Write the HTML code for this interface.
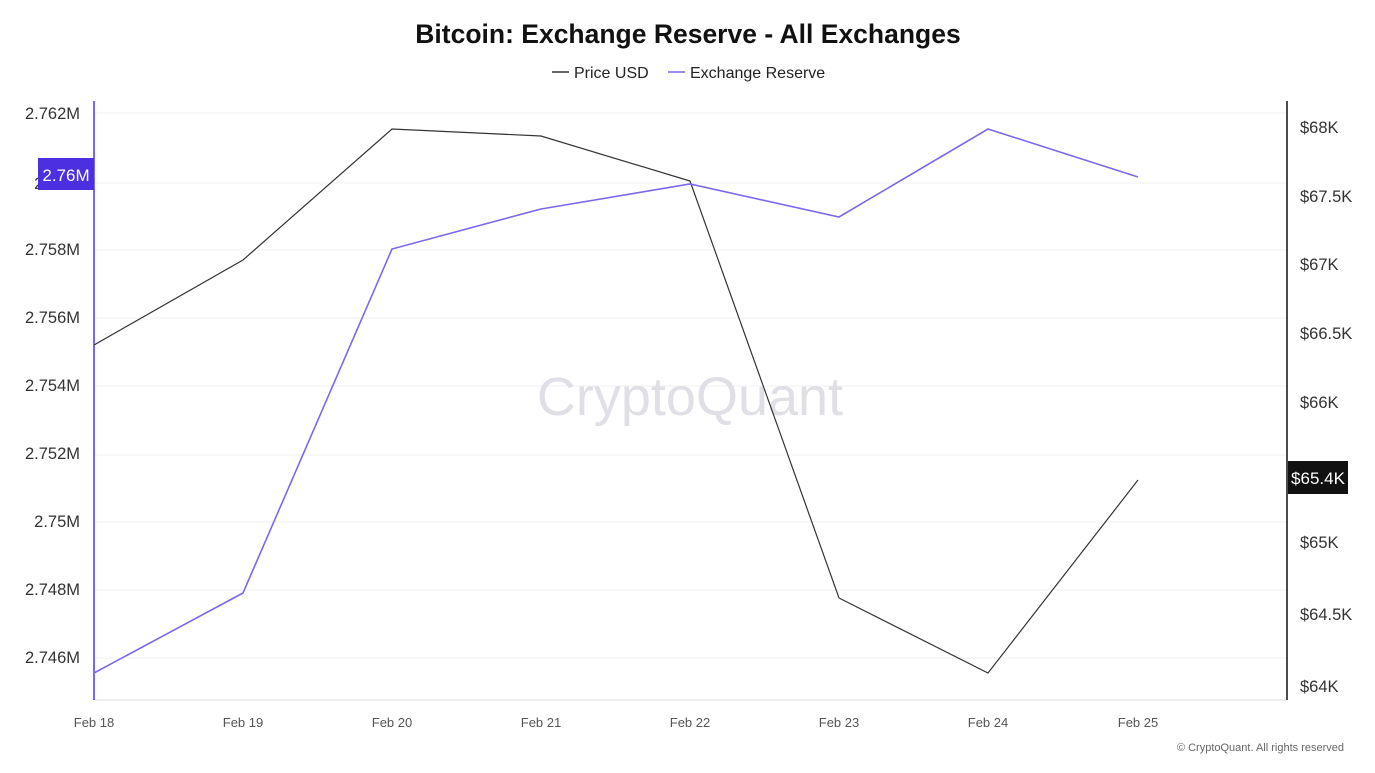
<!DOCTYPE html>
<html><head><meta charset="utf-8"><style>
body{margin:0;background:#fff;font-family:"Liberation Sans",sans-serif;}
</style></head><body>
<svg width="1375" height="768" xmlns="http://www.w3.org/2000/svg" font-family="Liberation Sans, sans-serif">
<rect width="1375" height="768" fill="#fff"/>
<text x="688" y="43" text-anchor="middle" font-size="26.5" font-weight="bold" fill="#111">Bitcoin: Exchange Reserve - All Exchanges</text>
<line x1="552" y1="72" x2="569" y2="72" stroke="#333" stroke-width="1.5"/>
<text x="574" y="78" font-size="16" fill="#222">Price USD</text>
<line x1="668" y1="72" x2="685" y2="72" stroke="#7b68ee" stroke-width="1.5"/>
<text x="690" y="78" font-size="16" fill="#222">Exchange Reserve</text>
<g stroke="#f2f2f2" stroke-width="1">
<line x1="95" y1="113" x2="1287" y2="113"/><line x1="95" y1="183" x2="1287" y2="183"/>
<line x1="95" y1="250" x2="1287" y2="250"/><line x1="95" y1="318" x2="1287" y2="318"/>
<line x1="95" y1="386" x2="1287" y2="386"/><line x1="95" y1="455" x2="1287" y2="455"/>
<line x1="95" y1="522" x2="1287" y2="522"/><line x1="95" y1="590" x2="1287" y2="590"/>
<line x1="95" y1="658" x2="1287" y2="658"/>
</g>
<line x1="95" y1="700" x2="1287" y2="700" stroke="#ddd"/>
<text x="690" y="415" text-anchor="middle" font-size="54" fill="#e0dfe6">CryptoQuant</text>
<line x1="94" y1="101" x2="94" y2="700" stroke="#7b68ee" stroke-width="2"/>
<line x1="1287" y1="101" x2="1287" y2="700" stroke="#111" stroke-width="1.5"/>
<g font-size="16.5" fill="#333" text-anchor="end">
<text x="80" y="119">2.762M</text><text x="80" y="189">2.76M</text><text x="80" y="255">2.758M</text>
<text x="80" y="323">2.756M</text><text x="80" y="391">2.754M</text><text x="80" y="459">2.752M</text>
<text x="80" y="527">2.75M</text><text x="80" y="595">2.748M</text><text x="80" y="663">2.746M</text>
</g>
<g font-size="16.5" fill="#333">
<text x="1300" y="133">$68K</text><text x="1300" y="202">$67.5K</text><text x="1300" y="270">$67K</text>
<text x="1300" y="339">$66.5K</text><text x="1300" y="408">$66K</text><text x="1300" y="548">$65K</text>
<text x="1300" y="620">$64.5K</text><text x="1300" y="692">$64K</text>
</g>
<g font-size="13" fill="#555" text-anchor="middle">
<text x="94" y="727">Feb 18</text><text x="243" y="727">Feb 19</text><text x="392" y="727">Feb 20</text>
<text x="541" y="727">Feb 21</text><text x="690" y="727">Feb 22</text><text x="839" y="727">Feb 23</text>
<text x="988" y="727">Feb 24</text><text x="1138" y="727">Feb 25</text>
</g>
<polyline fill="none" stroke="#333" stroke-width="1.2" points="94,345 243,260 392,129 541,136 690,181 839,598 988,673 1138,480"/>
<polyline fill="none" stroke="#7b68ee" stroke-width="1.6" points="94,673 243,593 392,249 541,209 690,184 839,217 988,129 1138,177"/>
<rect x="38" y="158" width="56" height="32" fill="#4b2fe0"/>
<text x="66" y="181" text-anchor="middle" font-size="17" fill="#fff">2.76M</text>
<rect x="1288" y="461" width="60" height="33" fill="#111"/>
<text x="1318" y="484" text-anchor="middle" font-size="17" fill="#fff">$65.4K</text>
<text x="1344" y="751" text-anchor="end" font-size="11" fill="#666">© CryptoQuant. All rights reserved</text>
</svg>
</body></html>
